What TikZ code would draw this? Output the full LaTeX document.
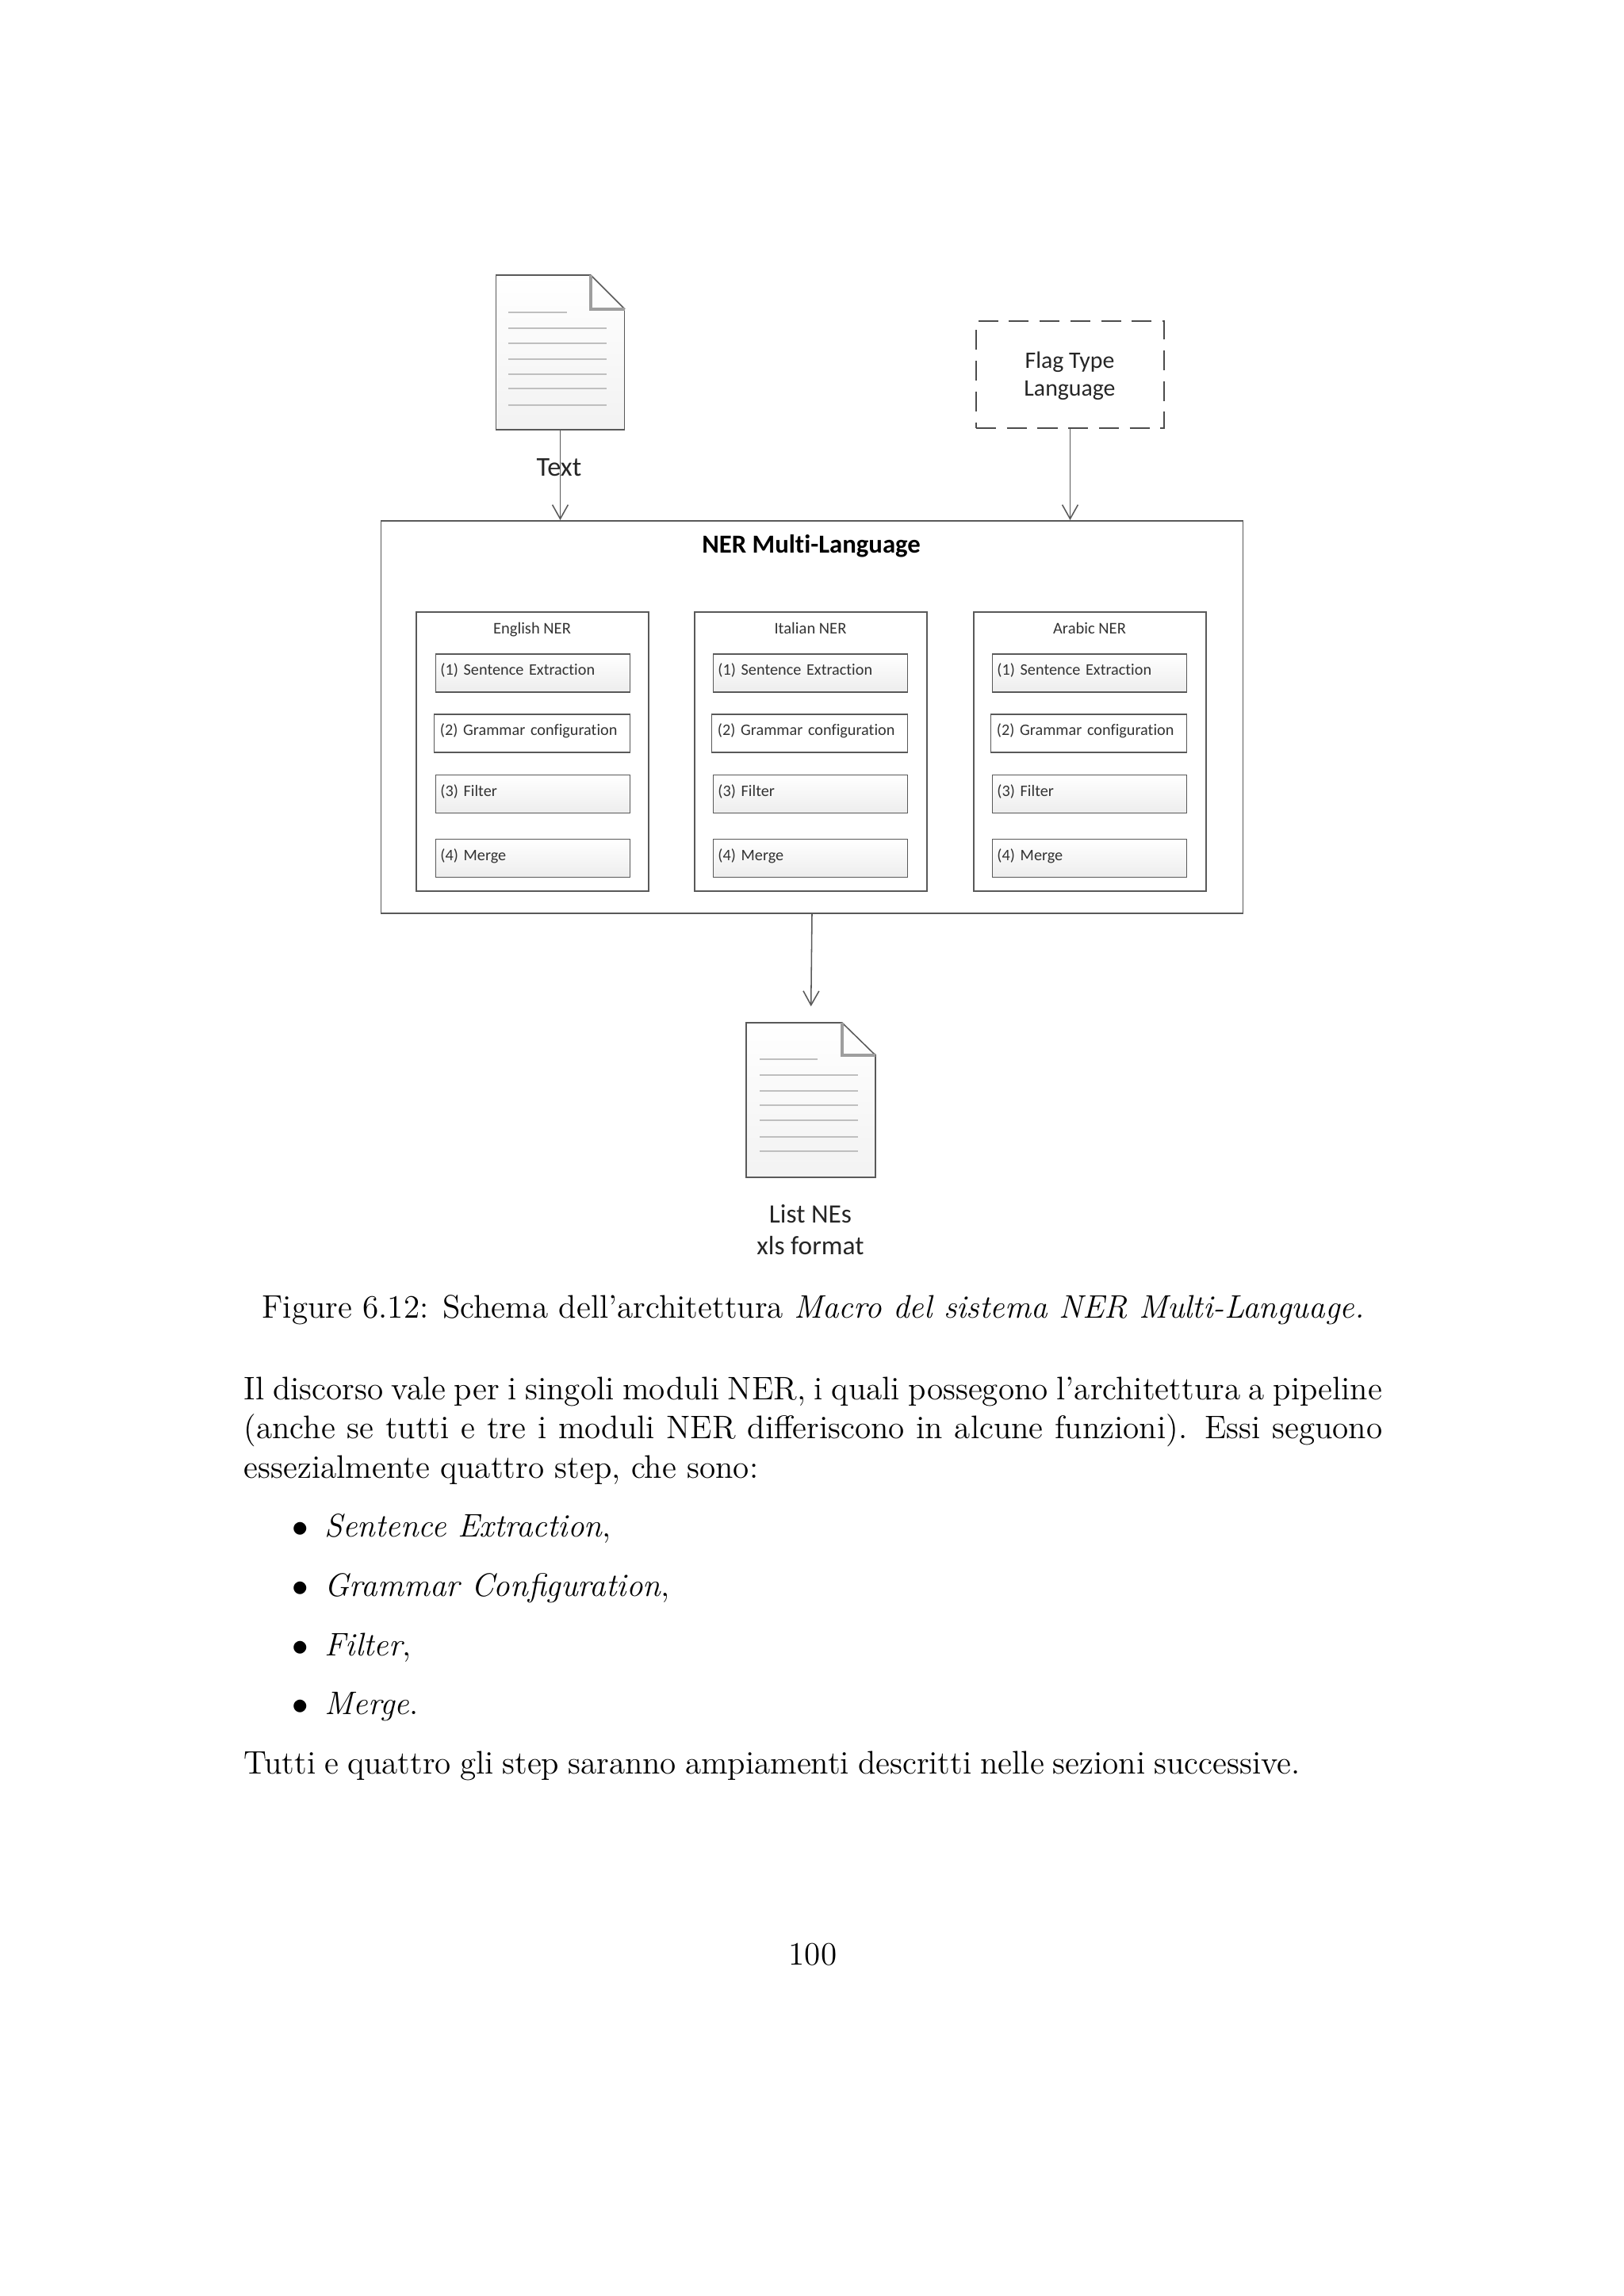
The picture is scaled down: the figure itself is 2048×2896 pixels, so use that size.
\documentclass[tikz,border=0pt]{standalone}
\usepackage{fontspec}
\usetikzlibrary{arrows.meta}
\newfontfamily\carlito[Ligatures=NoCommon]{Carlito}

\tikzset{
  figline/.style={draw=black!65,line width=0.45pt},
  docbox/.style={figline,rectangle,inner sep=0pt,top color=white,bottom color=black!5},
  docrule/.style={draw=black!25,line width=0.4pt},
  docfold/.style={draw=black!38,line width=0.9pt},
  flagbox/.style={draw=black!70,line width=0.45pt,dash pattern=on 7.3pt off 4pt,inner sep=0pt,minimum width=2.43cm,minimum height=1.38cm},
  outerbox/.style={figline,rectangle,inner sep=0pt,minimum width=11.15cm,minimum height=5.08cm},
  panelbox/.style={figline,rectangle,inner sep=0pt,minimum width=3cm,minimum height=3.61cm},
  stepbox/.style={figline,rectangle,inner sep=0pt,minimum height=0.49cm,text height=7.6pt,text depth=6pt,
    text width=2.39cm,align=left,font=\carlito\fontsize{5.9}{6.5}\selectfont,text=black!80,
    top color=white,bottom color=black!7},
  plainstep/.style={stepbox,top color=white,bottom color=white,text width=2.38cm},
  diagram text/.style={font=\carlito\fontsize{10}{12}\selectfont,text=black!85,inner sep=0pt},
  panel text/.style={font=\carlito\fontsize{6}{7}\selectfont,text=black!80,inner sep=0pt,text height=5pt,text depth=1.5pt},
  page text/.style={font=\fontsize{12}{14.5}\selectfont,anchor=base west,inner sep=0pt}
}

\begin{document}
\begin{tikzpicture}[x=0.0102539cm,y=-0.0102539cm,>={Straight Barb[length=5.2pt,width=5.8pt]}]
\useasboundingbox (0,0) rectangle (2048,2896);

% input document
\node[docbox,minimum width=1.66cm,minimum height=2cm] (textdoc) at (706.5,444.5) {};
\fill[white] (745,346) -- (789,346) -- (789,390) -- cycle;
\draw[figline] (745,347) -- (788,390);
\draw[docfold] (745,347) -- (745,390) -- (788,390);
\draw[docrule] (641,394) -- (715,394) (641,414) -- (765,414) (641,433) -- (765,433) (641,453) -- (765,453) (641,472) -- (765,472) (641,490) -- (765,490) (641,511) -- (765,511);
\node[diagram text] (textlabel) at (705,590) {Text};

\node[flagbox] (flag) at (1349.5,472.5) {};
\node[diagram text,align=center,font=\carlito\fontsize{8.7}{10.2}\selectfont] (flaglabel) at (1349,474.5) {Flag Type\\Language};

% main block
\node[outerbox] (nermulti) at (1024,904.5) {};
\node[diagram text,font=\carlito\bfseries\fontsize{9.55}{12}\selectfont,text=black] (nertitle) at (1023,688.5) {NER Multi-Language};

\node[panelbox] (english) at (671.5,948) {};
\node[panelbox] (italian) at (1022.5,948) {};
\node[panelbox] (arabic) at (1374.5,948) {};
\node[panel text] (englishlabel) at (671,793) {English NER};
\node[panel text] (italianlabel) at (1022,793) {Italian NER};
\node[panel text] (arabiclabel) at (1374,793) {Arabic NER};

\node[stepbox,minimum width=2.51cm] (eng1) at (672,849) {(1) Sentence Extraction};
\node[plainstep,minimum width=2.53cm] (eng2) at (671,925) {(2) Grammar configuration};
\node[stepbox,minimum width=2.51cm] (eng3) at (672,1001.5) {(3) Filter};
\node[stepbox,minimum width=2.51cm] (eng4) at (672,1082.5) {(4) Merge};

\node[stepbox,minimum width=2.51cm] (ita1) at (1022,849) {(1) Sentence Extraction};
\node[plainstep,minimum width=2.53cm] (ita2) at (1021,925) {(2) Grammar configuration};
\node[stepbox,minimum width=2.51cm] (ita3) at (1022,1001.5) {(3) Filter};
\node[stepbox,minimum width=2.51cm] (ita4) at (1022,1082.5) {(4) Merge};

\node[stepbox,minimum width=2.51cm] (ara1) at (1374,849) {(1) Sentence Extraction};
\node[plainstep,minimum width=2.53cm] (ara2) at (1373,925) {(2) Grammar configuration};
\node[stepbox,minimum width=2.51cm] (ara3) at (1374,1001.5) {(3) Filter};
\node[stepbox,minimum width=2.51cm] (ara4) at (1374,1082.5) {(4) Merge};

% output document
\node[docbox,minimum width=1.67cm,minimum height=2cm] (listdoc) at (1022.5,1387.5) {};
\fill[white] (1062,1289) -- (1106,1289) -- (1106,1331) -- cycle;
\draw[figline] (1062,1290) -- (1104,1331);
\draw[docfold] (1062,1290) -- (1062,1331) -- (1104,1331);
\draw[docrule] (958,1336) -- (1031,1336) (958,1356) -- (1082,1356) (958,1376) -- (1082,1376) (958,1394) -- (1082,1394) (958,1413) -- (1082,1413) (958,1434) -- (1082,1434) (958,1452) -- (1082,1452);
\node[diagram text,align=center,font=\carlito\fontsize{9.75}{11.6}\selectfont] (listlabel) at (1022,1551) {List NEs\\xls format};

% connectors
\draw[->,figline] (textdoc.south) -- (textdoc.south |- nermulti.north);
\draw[->,figline] (flag.south) -- (flag.south |- nermulti.north);
\draw[->,figline,shorten >=5.8pt] (nermulti.south) -- (listdoc.north);

% text of the page
\node[page text,anchor=center] (caption) at (1025.5,1652) {Figure 6.12: Schema dell’architettura \emph{Macro del sistema NER Multi-Language.}};
\node[page text,anchor=north west,text width=14.72cm,align=justify] (para) at (307,1736) {Il discorso vale per i singoli moduli NER, i quali possegono l’architettura a pipeline (anche se tutti e tre i moduli NER differiscono in alcune funzioni). Essi seguono essezialmente quattro step, che sono:};
\node[page text] (dot1) at (368,1938) {$\bullet$};
\node[page text] (dot2) at (368,2013) {$\bullet$};
\node[page text] (dot3) at (368,2088) {$\bullet$};
\node[page text] (dot4) at (368,2162) {$\bullet$};
\node[page text] (item1) at (409,1938) {\emph{Sentence Extraction},};
\node[page text] (item2) at (409,2013) {\emph{Grammar Configuration},};
\node[page text] (item3) at (409,2088) {\emph{Filter},};
\node[page text] (item4) at (409,2162) {\emph{Merge}.};
\node[page text] (closing) at (307,2237.5) {\spaceskip=3.2pt Tutti e quattro gli step saranno ampiamenti descritti nelle sezioni successive.};
\node[page text,anchor=center] (pagenum) at (1025,2465) {100};
\end{tikzpicture}
\end{document}
